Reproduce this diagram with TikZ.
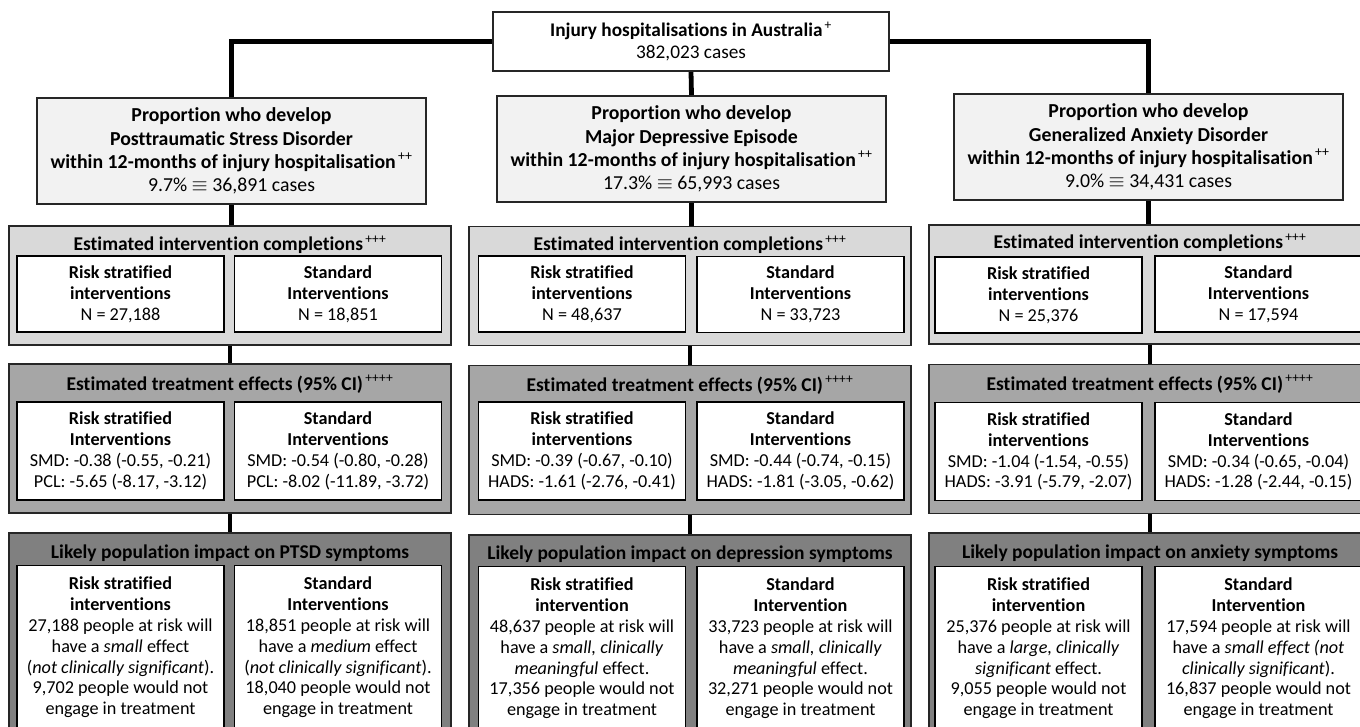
\documentclass[tikz,border=0pt]{standalone}
\usepackage{fontspec}
\setmainfont{Carlito}[Ligatures=NoCommon]
\usetikzlibrary{backgrounds}
\definecolor{propfill}{HTML}{F2F2F2}
\definecolor{compfill}{HTML}{D9D9D9}
\definecolor{treatfill}{HTML}{A6A6A6}
\definecolor{impfill}{HTML}{808080}
\definecolor{edge}{HTML}{262626}
\newcommand{\sups}[1]{\textsuperscript{\mdseries\,#1}}
\tikzset{
  topbox/.style={draw=edge, line width=1.5pt, fill=white, align=center, inner sep=0pt,
    minimum width=396, minimum height=59, font={\fontsize{19.3}{22}\selectfont}},
  propbox/.style={draw=edge, line width=1.5pt, fill=propfill, align=center, inner sep=0pt,
    minimum width=389, minimum height=106, font={\fontsize{19.8}{23.3}\selectfont}},
  compbox/.style={draw=edge, line width=1.5pt, fill=compfill, minimum width=442, minimum height=119, inner sep=0pt},
  treatbox/.style={draw=edge, line width=1.5pt, fill=treatfill, minimum width=442, minimum height=149, inner sep=0pt},
  impbox/.style={draw=edge, line width=1.5pt, fill=impfill, minimum width=442, minimum height=210, inner sep=0pt},
  head/.style={inner sep=0pt, font={\fontsize{19.5}{22}\selectfont\bfseries}},
  cbox/.style={draw=black, line width=1.5pt, fill=white, align=center, inner sep=0pt,
    minimum width=207, minimum height=76, font={\fontsize{18.2}{20.8}\selectfont}},
  tbox/.style={draw=black, line width=1.5pt, fill=white, align=center, inner sep=0pt,
    minimum width=207, minimum height=98, font={\fontsize{18.2}{20.8}\selectfont}},
  ibox/.style={draw=black, line width=1.5pt, fill=white, align=center, inner sep=0pt,
    minimum width=207, minimum height=164, font={\fontsize{18.2}{20.8}\selectfont}},
  link/.style={line width=4.8pt, black}
}
\begin{document}
\begin{tikzpicture}[x=1pt,y=-1pt]
\useasboundingbox (0,0) rectangle (1360,727);

% top
\node[topbox] (top) at (691,41.5) {\textbf{Injury hospitalisations in Australia}\sups{+}\\382,023 cases};

% proportion boxes
\node[propbox] (p1) at (231.5,151) {\textbf{Proportion who develop}\\\textbf{Posttraumatic Stress Disorder}\\\textbf{within 12-months of injury hospitalisation}\sups{++}\\9.7\% $\equiv$ 36,891 cases};
\node[propbox] (p2) at (691.5,149) {\textbf{Proportion who develop}\\\textbf{Major Depressive Episode}\\\textbf{within 12-months of injury hospitalisation}\sups{++}\\17.3\% $\equiv$ 65,993 cases};
\node[propbox] (p3) at (1148.5,147) {\textbf{Proportion who develop}\\\textbf{Generalized Anxiety Disorder}\\\textbf{within 12-months of injury hospitalisation}\sups{++}\\9.0\% $\equiv$ 34,431 cases};

% completion boxes
\node[compbox] (c1) at (230,285.5) {};
\node[compbox] (c2) at (690,286) {};
\node[compbox] (c3) at (1150,284.5) {};
\node[head] (c1h) at (230,245) {Estimated intervention completions\sups{+++}};
\node[head] (c2h) at (690,245) {Estimated intervention completions\sups{+++}};
\node[head] (c3h) at (1150,243) {Estimated intervention completions\sups{+++}};
\node[cbox] (c1a) at (120.5,294) {\textbf{Risk stratified}\\\textbf{interventions}\\N = 27,188};
\node[cbox] (c1b) at (338,294) {\textbf{Standard}\\\textbf{Interventions}\\N = 18,851};
\node[cbox] (c2a) at (582,294) {\textbf{Risk stratified}\\\textbf{interventions}\\N = 48,637};
\node[cbox] (c2b) at (800.5,294.5) {\textbf{Standard}\\\textbf{Interventions}\\N = 33,723};
\node[cbox] (c3a) at (1038.5,295) {\textbf{Risk stratified}\\\textbf{interventions}\\N = 25,376};
\node[cbox] (c3b) at (1258.5,294) {\textbf{Standard}\\\textbf{Interventions}\\N = 17,594};

% treatment boxes
\node[treatbox] (t1) at (230,438.5) {};
\node[treatbox] (t2) at (690,440) {};
\node[treatbox] (t3) at (1150,439) {};
\node[head] (t1h) at (230,384) {Estimated treatment effects (95\% CI)\sups{++++}};
\node[head] (t2h) at (690,385) {Estimated treatment effects (95\% CI)\sups{++++}};
\node[head] (t3h) at (1150,384) {Estimated treatment effects (95\% CI)\sups{++++}};
\node[tbox] (t1a) at (120.5,451) {\textbf{Risk stratified}\\\textbf{Interventions}\\SMD: -0.38 (-0.55, -0.21)\\PCL: -5.65 (-8.17, -3.12)};
\node[tbox] (t1b) at (338,451) {\textbf{Standard}\\\textbf{Interventions}\\SMD: -0.54 (-0.80, -0.28)\\PCL: -8.02 (-11.89, -3.72)};
\node[tbox] (t2a) at (582,451) {\textbf{Risk stratified}\\\textbf{interventions}\\SMD: -0.39 (-0.67, -0.10)\\HADS: -1.61 (-2.76, -0.41)};
\node[tbox] (t2b) at (800.5,451) {\textbf{Standard}\\\textbf{Interventions}\\SMD: -0.44 (-0.74, -0.15)\\HADS: -1.81 (-3.05, -0.62)};
\node[tbox] (t3a) at (1038.5,451.5) {\textbf{Risk stratified}\\\textbf{interventions}\\SMD: -1.04 (-1.54, -0.55)\\HADS: -3.91 (-5.79, -2.07)};
\node[tbox] (t3b) at (1258.5,451.5) {\textbf{Standard}\\\textbf{Interventions}\\SMD: -0.34 (-0.65, -0.04)\\HADS: -1.28 (-2.44, -0.15)};

% impact boxes
\node[impbox] (i1) at (230,638) {};
\node[impbox] (i2) at (690,640) {};
\node[impbox] (i3) at (1150,638) {};
\node[head] (i1h) at (230,553) {Likely population impact on PTSD symptoms};
\node[head] (i2h) at (690,554) {Likely population impact on depression symptoms};
\node[head] (i3h) at (1150,553) {Likely population impact on anxiety symptoms};
\node[ibox] (i1a) at (120.5,647.5) {\textbf{Risk stratified}\\\textbf{interventions}\\27,188 people at risk will\\have a \textit{small} effect\\(\textit{not clinically significant}).\\9,702 people would not\\engage in treatment};
\node[ibox] (i1b) at (338,647.5) {\textbf{Standard}\\\textbf{Interventions}\\18,851 people at risk will\\have a \textit{medium} effect\\(\textit{not clinically significant}).\\18,040 people would not\\engage in treatment};
\node[ibox] (i2a) at (582,648.5) {\textbf{Risk stratified}\\\textbf{intervention}\\48,637 people at risk will\\have a \textit{small, clinically}\\\textit{meaningful} effect.\\17,356 people would not\\engage in treatment};
\node[ibox] (i2b) at (800.5,648.5) {\textbf{Standard}\\\textbf{Intervention}\\33,723 people at risk will\\have a \textit{small, clinically}\\\textit{meaningful} effect.\\32,271 people would not\\engage in treatment};
\node[ibox] (i3a) at (1038.5,648.5) {\textbf{Risk stratified}\\\textbf{intervention}\\25,376 people at risk will\\have a \textit{large, clinically}\\\textit{significant} effect.\\9,055 people would not\\engage in treatment};
\node[ibox] (i3b) at (1258.5,648.5) {\textbf{Standard}\\\textbf{Intervention}\\17,594 people at risk will\\have a \textit{small effect (not}\\\textit{clinically significant}).\\16,837 people would not\\engage in treatment};

% connectors
\begin{scope}[on background layer]
\draw[link] (top.center) -| (p1.north);
\draw[link] (top.center) -| (p3.north);
\draw[link] (top.south) -- (p2.north);
\draw[link] (p1.south) -- (p1.south |- c1.north);
\draw[link] (p2.south) -- (p2.south |- c2.north);
\draw[link] (p3.south) -- (p3.south |- c3.north);
\draw[link] (c1.south) -- (t1.north);
\draw[link] (c2.south) -- (t2.north);
\draw[link] (c3.south) -- (t3.north);
\draw[link] (t1.south) -- (i1.north);
\draw[link] (t2.south) -- (i2.north);
\draw[link] (t3.south) -- (i3.north);
\end{scope}
\end{tikzpicture}
\end{document}
